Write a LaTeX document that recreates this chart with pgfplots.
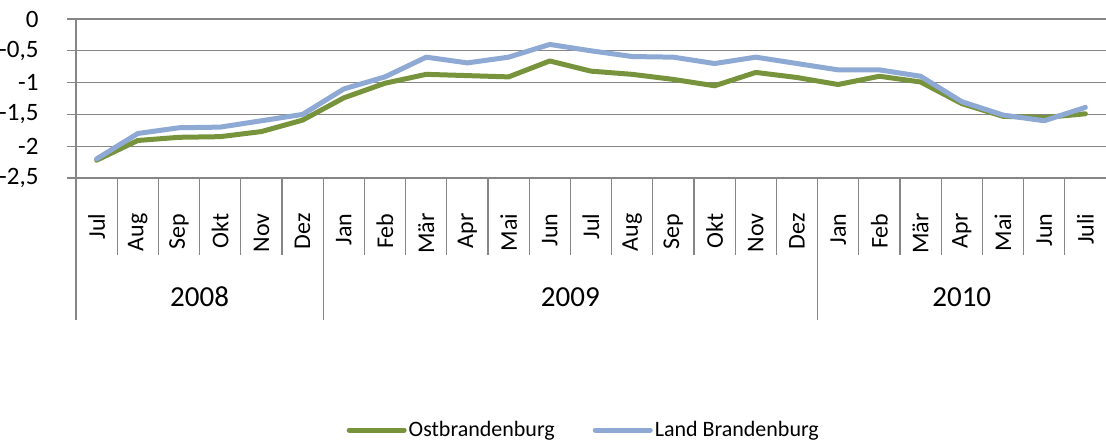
\documentclass[border=0pt]{standalone}
\usepackage{fontspec}
\setmainfont{Carlito}
\usepackage{pgfplots}
\pgfplotsset{compat=1.18}
\definecolor{OstGreen}{RGB}{119,147,60}
\definecolor{LandBlue}{RGB}{142,169,212}
\definecolor{GridGray}{RGB}{134,134,134}

% x: month index (0 = Jul 2008 ... 24 = Juli 2010)
\pgfplotstableread{
x  ost    land
0  -2.22  -2.20
1  -1.91  -1.80
2  -1.86  -1.71
3  -1.85  -1.70
4  -1.77  -1.60
5  -1.59  -1.50
6  -1.24  -1.10
7  -1.01  -0.91
8  -0.87  -0.60
9  -0.89  -0.69
10 -0.91  -0.60
11 -0.66  -0.40
12 -0.82  -0.50
13 -0.87  -0.59
14 -0.95  -0.60
15 -1.05  -0.70
16 -0.84  -0.60
17 -0.92  -0.70
18 -1.03  -0.80
19 -0.90  -0.80
20 -0.99  -0.90
21 -1.33  -1.30
22 -1.53  -1.51
23 -1.55  -1.60
24 -1.49  -1.39
}\data

\begin{document}
\begin{tikzpicture}
\useasboundingbox (-76pt,-264pt) rectangle (1030pt,178pt);
\begin{axis}[
    scale only axis,
    width=1030pt, height=159pt,
    xmin=-0.5, xmax=24.5,
    ymin=-2.5, ymax=0,
    clip=false,
    axis x line*=bottom,
    axis y line*=left,
    axis line style={GridGray, line width=1.3pt, -},
    ytick={-2.5,-2,-1.5,-1,-0.5,0},
    ymajorgrids,
    grid style={GridGray, line width=1.3pt},
    tick align=outside,
    major tick length=9pt,
    ytick style={GridGray, line width=1.3pt},
    yticklabel style={font=\fontsize{25}{28}\selectfont, xshift=-25pt,
        /pgf/number format/.cd, use comma, fixed, assume math mode=true},
    xtick={0,...,24},
    xticklabels={Jul,Aug,Sep,Okt,Nov,Dez,Jan,Feb,Mär,Apr,Mai,Jun,Jul,Aug,Sep,Okt,Nov,Dez,Jan,Feb,Mär,Apr,Mai,Jun,Juli},
    xtick style={draw=none},
    xticklabel style={rotate=90, anchor=east, font=\fontsize{24}{28}\selectfont, xshift=-23pt},
    legend columns=2,
    legend style={at={(0.493,-1.585)}, anchor=center, draw=none,
        font=\fontsize{22}{26}\selectfont,
        /tikz/every even column/.append style={column sep=36pt},
        inner sep=0pt},
    legend image code/.code={\draw[#1] (0pt,0pt) -- (55pt,0pt);},
]
\addplot[OstGreen, line width=5pt, line join=round, line cap=round] table[x=x, y=ost] {\data};
\addplot[LandBlue, line width=5pt, line join=round, line cap=round] table[x=x, y=land] {\data};
\legend{Ostbrandenburg, Land Brandenburg}

% category separators (months)
\pgfplotsinvokeforeach{0.5,1.5,...,23.5}{
    \draw[GridGray, line width=1.3pt] (axis cs:#1,-2.5) -- ([yshift=-77pt]axis cs:#1,-2.5);
}
% year separators
\pgfplotsinvokeforeach{-0.5,5.5,17.5}{
    \draw[GridGray, line width=1.3pt] (axis cs:#1,-2.5) -- ([yshift=-142pt]axis cs:#1,-2.5);
}
\node[font=\fontsize{29}{33}\selectfont] at ([yshift=-119pt]axis cs:2.5,-2.5) {2008};
\node[font=\fontsize{29}{33}\selectfont] at ([yshift=-119pt]axis cs:11.5,-2.5) {2009};
\node[font=\fontsize{29}{33}\selectfont] at ([yshift=-119pt]axis cs:21,-2.5) {2010};
\end{axis}
\end{tikzpicture}
\end{document}
